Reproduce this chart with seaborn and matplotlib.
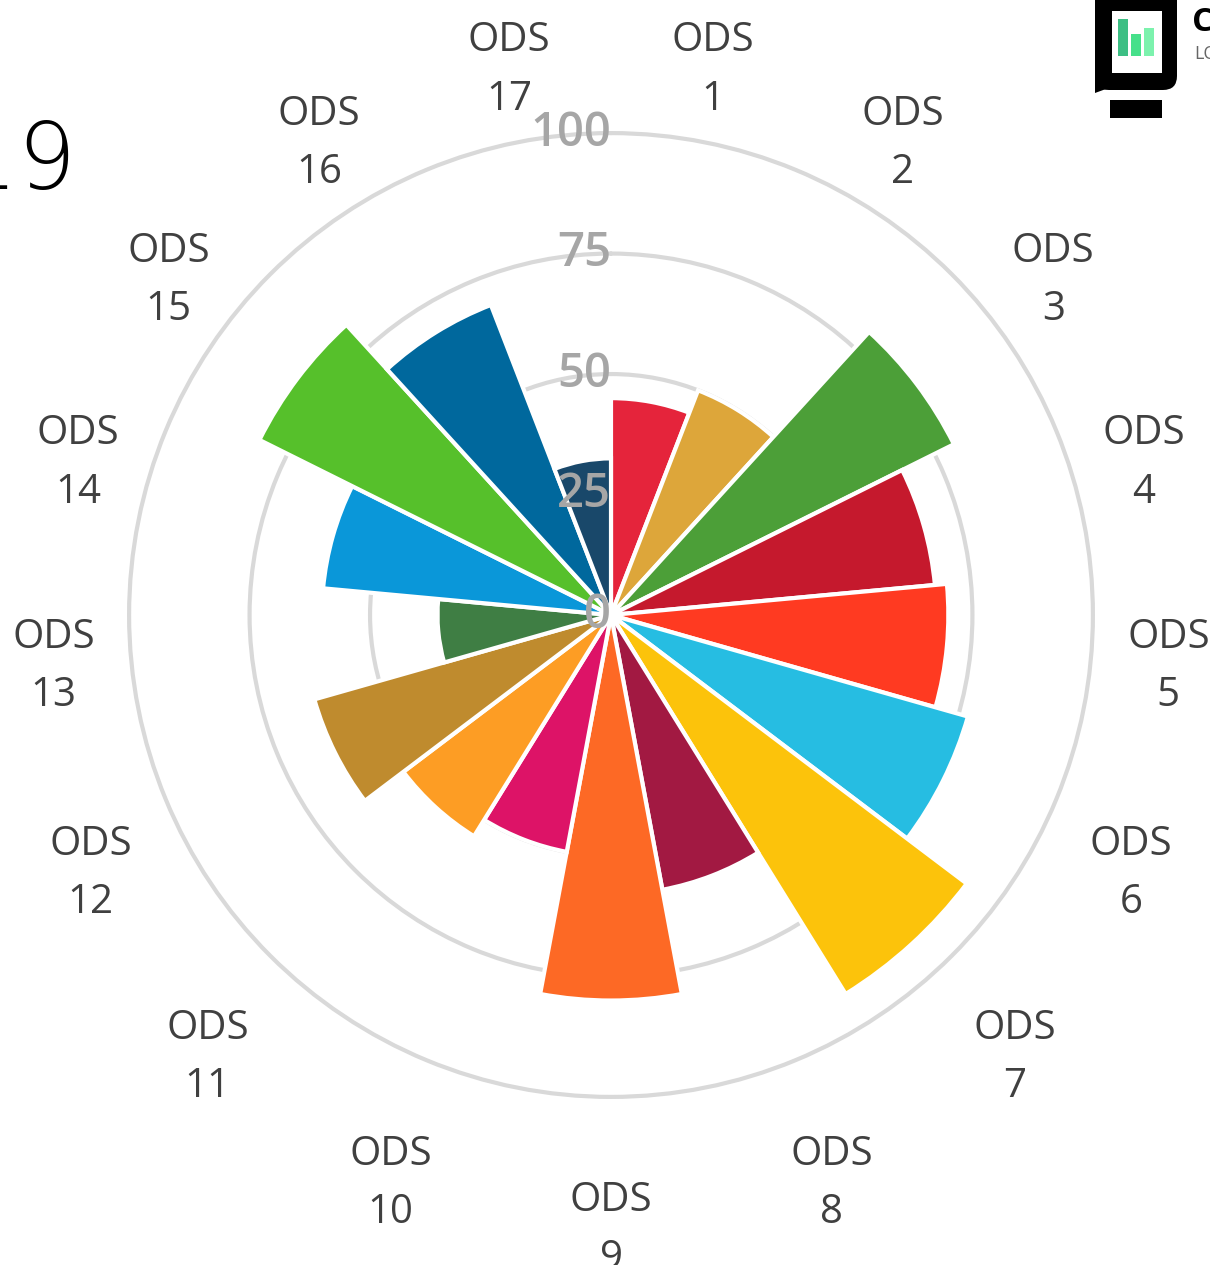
import numpy as np
import seaborn as sns
import matplotlib.pyplot as plt
from matplotlib.patches import FancyBboxPatch, Rectangle, Polygon
from matplotlib.transforms import IdentityTransform

# ODS (SDG) scores
labels = ["ODS\n%d" % i for i in range(1, 18)]
values = [45, 50, 79.5, 67.5, 70, 77, 92.5, 58, 80, 50, 54, 64, 36, 60, 81.5, 69, 32.5]
colors = ["#E5243B", "#DDA63A", "#4C9F38", "#C5192D", "#FF3A21", "#26BDE2",
          "#FCC30B", "#A21942", "#FD6925", "#DD1367", "#FD9D24", "#BF8B2E",
          "#3F7E44", "#0A97D9", "#56C02B", "#00689D", "#19486A"]
rticks = [0, 25, 50, 75, 100]
title = "2019"

sns.set_theme(style="white")
plt.rcParams['font.family'] = ['Open Sans', 'DejaVu Sans']

W, H = 1210, 1265
fig = plt.figure(figsize=(W / 100, H / 100), dpi=100)

# polar axes centred at (611, 615) px, r=105 -> 506 px
R = 506
ax = fig.add_axes([(611 - R) / W, (H - 615 - R) / H, 2 * R / W, 2 * R / H], projection="polar")
ax.set_theta_offset(np.pi / 2)
ax.set_theta_direction(-1)
ax.set_ylim(0, 105)

n = len(values)
width = 2 * np.pi / n
theta = np.arange(n) * width + width / 2
ax.bar(theta, values, width=width, color=sns.color_palette(colors), edgecolor="white",
       linewidth=3, zorder=3)

ax.set_yticks(rticks[1:])
ax.set_yticklabels([])
ax.set_xticks([])
ax.yaxis.grid(True, color="#d9d9d9", linewidth=3)
ax.xaxis.grid(False)
ax.spines["polar"].set_visible(False)
ax.set_axisbelow(True)

for r in rticks:
    ax.text(0, r, str(r), ha="right", va="center", fontsize=34, color="#a6a6a6",
            fontweight="semibold", zorder=5)

# category labels, pushed further out in the lower half
for t, lab in zip(theta, labels):
    rr = 115 + 12.5 * max(0.0, -np.cos(t))
    ax.text(t, rr, lab, ha="center", va="center", fontsize=29, color="#404040",
            linespacing=1.58, clip_on=False)

fig.text(77 / W, 1 - 189 / H, title, ha="right", va="baseline", fontsize=66,
         color="black", fontweight="light", family="DejaVu Sans")

# logo (top right), pixel coordinates from the top-left corner
def px(x, y):
    return (x, H - y)

ident = IdentityTransform()
fig.add_artist(FancyBboxPatch(px(1095, 90), 82, 105, boxstyle="round,pad=0,rounding_size=14",
                              facecolor="black", edgecolor="none", transform=ident))
fig.add_artist(Polygon([px(1095, 70), px(1095, 93), px(1136, 78)], closed=True,
                       facecolor="black", edgecolor="none", transform=ident))
fig.add_artist(Rectangle(px(1112, 73), 50, 62, facecolor="white", edgecolor="none", transform=ident))
for x0, y0, c in [(1118, 19, "#3dbf84"), (1131, 34, "#46e08a"), (1144, 28, "#7cf2ad")]:
    fig.add_artist(Rectangle(px(x0, 56), 10, 56 - y0, facecolor=c, edgecolor="none", transform=ident))
fig.add_artist(Rectangle(px(1110, 118), 52, 18, facecolor="black", edgecolor="none", transform=ident))
fig.text(1192 / W, 1 - 31 / H, "C", fontsize=24, fontweight="bold", color="black")
fig.text(1194 / W, 1 - 59 / H, "LO", fontsize=13, color="#666666")

fig.savefig("out.png", dpi=100)
